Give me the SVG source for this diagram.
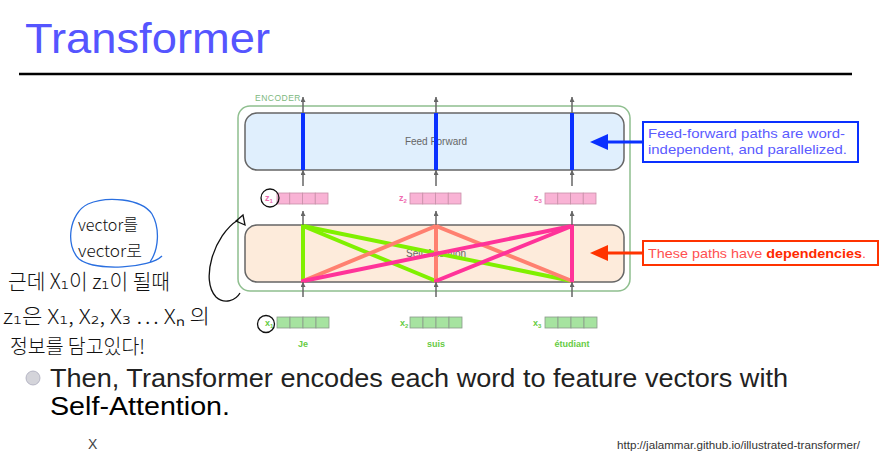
<svg xmlns="http://www.w3.org/2000/svg" width="884" height="451" viewBox="0 0 884 451">
<style>
.box{stroke:#666;stroke-width:1.5}
.flow{stroke:#666;stroke-width:1.5;fill:none}
.blk{font-family:"Liberation Sans",Arial,sans-serif}
.small{font-family:"Liberation Sans",Arial,sans-serif;font-size:10px;fill:#666}
.zc{fill:#f9b3d5;stroke:#c890a8;stroke-width:0.8}
.xc{fill:#a6e3a0;stroke:#8a9a8a;stroke-width:0.8}
.zl{font-family:"Liberation Sans",Arial,sans-serif;font-weight:bold;font-size:9px;fill:#f06cb0}
.xl{font-family:"Liberation Sans",Arial,sans-serif;font-weight:bold;font-size:9px;fill:#66cc44}
.sub{font-size:6px}
.word{font-family:"Liberation Sans",Arial,sans-serif;font-weight:bold;font-size:9px;fill:#66cc44;text-anchor:middle}
.hand{font-family:"Noto Sans CJK KR","DejaVu Sans",sans-serif;font-weight:300;fill:#111}
.pen{fill:none;stroke:#111;stroke-width:1.3}
.g{stroke:#80f000;stroke-width:4;stroke-linecap:round}
.s{stroke:#ff8070;stroke-width:4;stroke-linecap:round}
.p{stroke:#ff3399;stroke-width:4;stroke-linecap:round}
.ff{fill:#0a30ff}
</style>
<defs>
<marker id="ah" viewBox="0 0 8 8" refX="8" refY="4" markerWidth="5" markerHeight="5" orient="auto" markerUnits="userSpaceOnUse">
<path d="M0,0 L8,4 L0,8 z" fill="#666"/>
</marker>
</defs>

<g id="title">
<text x="25" y="53" class="blk" font-size="43" fill="#5555ff" textLength="245" lengthAdjust="spacingAndGlyphs">Transformer</text>
<line x1="19" y1="74" x2="852" y2="74" stroke="#000" stroke-width="2.5"/>
</g>

<g id="encoder">
<rect x="238" y="106" width="392" height="185" rx="12" fill="none" stroke="#8fbf8f" stroke-width="1.5"/>
<text x="255" y="101" class="blk" font-size="8.5" fill="#7db87d" letter-spacing="0.5">ENCODER</text>
</g>

<g id="feed-forward">
<rect x="245" y="113" width="379" height="57" rx="12" class="box" fill="#e0effd"/>
<text x="436" y="145" class="small" text-anchor="middle">Feed Forward</text>
<rect x="301" y="113" width="4" height="57" class="ff"/>
<rect x="434" y="113" width="4" height="57" class="ff"/>
<rect x="570" y="113" width="4" height="57" class="ff"/>
</g>

<g id="self-attention">
<rect x="245" y="225" width="379" height="57" rx="12" class="box" fill="#fdebdb"/>
<text x="436" y="257" class="small" text-anchor="middle">Self-Attention</text>
<line x1="303" y1="226" x2="303" y2="281" class="g"/>
<line x1="303" y1="226" x2="436" y2="281" class="g"/>
<line x1="303" y1="226" x2="572" y2="281" class="g"/>
<line x1="436" y1="226" x2="436" y2="281" class="s"/>
<line x1="436" y1="226" x2="303" y2="281" class="s"/>
<line x1="436" y1="226" x2="572" y2="281" class="s"/>
<line x1="572" y1="226" x2="572" y2="281" class="p"/>
<line x1="572" y1="226" x2="303" y2="281" class="p"/>
<line x1="572" y1="226" x2="436" y2="281" class="p"/>
</g>

<g id="z-vectors">
<text x="265" y="201" class="zl">z<tspan class="sub" dy="1.5">1</tspan></text>
<rect x="277" y="193" width="12.75" height="11" class="zc"/><rect x="289.75" y="193" width="12.75" height="11" class="zc"/><rect x="302.5" y="193" width="12.75" height="11" class="zc"/><rect x="315.25" y="193" width="12.75" height="11" class="zc"/>
<text x="399" y="201" class="zl">z<tspan class="sub" dy="1.5">2</tspan></text>
<rect x="410" y="193" width="12.75" height="11" class="zc"/><rect x="422.75" y="193" width="12.75" height="11" class="zc"/><rect x="435.5" y="193" width="12.75" height="11" class="zc"/><rect x="448.25" y="193" width="12.75" height="11" class="zc"/>
<text x="534" y="201" class="zl">z<tspan class="sub" dy="1.5">3</tspan></text>
<rect x="545" y="193" width="12.75" height="11" class="zc"/><rect x="557.75" y="193" width="12.75" height="11" class="zc"/><rect x="570.5" y="193" width="12.75" height="11" class="zc"/><rect x="583.25" y="193" width="12.75" height="11" class="zc"/>
</g>

<g id="x-vectors">
<text x="265" y="326" class="xl">x<tspan class="sub" dy="1.5">1</tspan></text>
<rect x="277" y="317" width="13" height="11" class="xc"/><rect x="290" y="317" width="13" height="11" class="xc"/><rect x="303" y="317" width="13" height="11" class="xc"/><rect x="316" y="317" width="13" height="11" class="xc"/>
<text x="400" y="326" class="xl">x<tspan class="sub" dy="1.5">2</tspan></text>
<rect x="410" y="317" width="13" height="11" class="xc"/><rect x="423" y="317" width="13" height="11" class="xc"/><rect x="436" y="317" width="13" height="11" class="xc"/><rect x="449" y="317" width="13" height="11" class="xc"/>
<text x="533" y="326" class="xl">x<tspan class="sub" dy="1.5">3</tspan></text>
<rect x="545" y="317" width="13" height="11" class="xc"/><rect x="558" y="317" width="13" height="11" class="xc"/><rect x="571" y="317" width="13" height="11" class="xc"/><rect x="584" y="317" width="13" height="11" class="xc"/>
<text x="303" y="347" class="word">Je</text>
<text x="436" y="347" class="word">suis</text>
<text x="572" y="347" class="word">étudiant</text>
</g>

<g id="connectors">
<line x1="303" y1="113" x2="303" y2="97" class="flow" marker-end="url(#ah)"/>
<line x1="436" y1="113" x2="436" y2="97" class="flow" marker-end="url(#ah)"/>
<line x1="572" y1="113" x2="572" y2="97" class="flow" marker-end="url(#ah)"/>
<line x1="303" y1="186" x2="303" y2="170" class="flow" marker-end="url(#ah)"/>
<line x1="436" y1="186" x2="436" y2="170" class="flow" marker-end="url(#ah)"/>
<line x1="572" y1="186" x2="572" y2="170" class="flow" marker-end="url(#ah)"/>
<line x1="303" y1="225" x2="303" y2="211" class="flow" marker-end="url(#ah)"/>
<line x1="436" y1="225" x2="436" y2="211" class="flow" marker-end="url(#ah)"/>
<line x1="572" y1="225" x2="572" y2="211" class="flow" marker-end="url(#ah)"/>
<line x1="303" y1="297" x2="303" y2="282" class="flow" marker-end="url(#ah)"/>
<line x1="436" y1="297" x2="436" y2="282" class="flow" marker-end="url(#ah)"/>
<line x1="572" y1="297" x2="572" y2="282" class="flow" marker-end="url(#ah)"/>
<line x1="643" y1="142" x2="606" y2="142" stroke="#0a30ff" stroke-width="3"/>
<polygon points="590,142 608,134 608,150" fill="#0a30ff"/>
<line x1="643" y1="253" x2="606" y2="253" stroke="#ff3300" stroke-width="3"/>
<polygon points="590,253 608,245 608,261" fill="#ff3300"/>
</g>

<g id="callout-ff">
<rect x="643" y="122" width="215" height="40" fill="#fff" stroke="#0a30ff" stroke-width="2"/>
<text x="648" y="138" class="blk" font-size="13" fill="#5b5bff" textLength="197" lengthAdjust="spacingAndGlyphs">Feed-forward paths are word-</text>
<text x="648" y="154" class="blk" font-size="13" fill="#5b5bff" textLength="199" lengthAdjust="spacingAndGlyphs">independent, and parallelized.</text>
</g>

<g id="callout-sa">
<rect x="643" y="241" width="235" height="24" fill="#fff" stroke="#ff3300" stroke-width="2"/>
<text x="648" y="258" class="blk" font-size="13" fill="#ff5050" textLength="218" lengthAdjust="spacingAndGlyphs">These paths have <tspan font-weight="bold" fill="#ff2a00">dependencies</tspan>.</text>
</g>

<g id="handwriting">
<path d="M162,256 C150,268 96,272 79,259 C65,246 69,213 88,204 C106,196 141,198 152,214 C160,228 159,249 150,262" fill="none" stroke="#2a6fe0" stroke-width="1.3"/>
<text x="78" y="231" class="hand" font-size="17" textLength="60" lengthAdjust="spacingAndGlyphs">vector를</text>
<text x="78" y="257" class="hand" font-size="17" textLength="64" lengthAdjust="spacingAndGlyphs">vector로</text>
<text x="8" y="289" class="hand" font-size="21" textLength="162" lengthAdjust="spacingAndGlyphs">근데 X₁이 z₁이 될때</text>
<text x="3" y="324" class="hand" font-size="20" textLength="207" lengthAdjust="spacingAndGlyphs">z₁은  X₁, X₂, X₃ … Xₙ 의</text>
<text x="10" y="354" class="hand" font-size="20" textLength="135" lengthAdjust="spacingAndGlyphs">정보를 담고있다!</text>
<ellipse cx="270" cy="198" rx="9" ry="9" class="pen"/>
<ellipse cx="266" cy="324" rx="8.5" ry="8.5" class="pen"/>
<path d="M238,220 C214,235 200,280 216,297 C225,305 236,300 240,293" class="pen"/>
<polygon points="236,221 243,215 245,225" class="pen"/>
</g>

<g id="body-text">
<circle cx="33" cy="378" r="7" fill="#d4d4da" stroke="#aab" stroke-width="0.8"/>
<text x="50" y="387" class="blk" font-size="26" fill="#222" textLength="738" lengthAdjust="spacingAndGlyphs">Then, Transformer encodes each word to feature vectors with</text>
<text x="50" y="415" class="blk" font-size="26" fill="#000" textLength="180" lengthAdjust="spacingAndGlyphs">Self-Attention.</text>
<text x="88" y="449" class="blk" font-size="14" fill="#444">X</text>
<text x="617" y="449" class="blk" font-size="10.5" fill="#333" textLength="243" lengthAdjust="spacingAndGlyphs">http://jalammar.github.io/illustrated-transformer/</text>
</g>
</svg>
